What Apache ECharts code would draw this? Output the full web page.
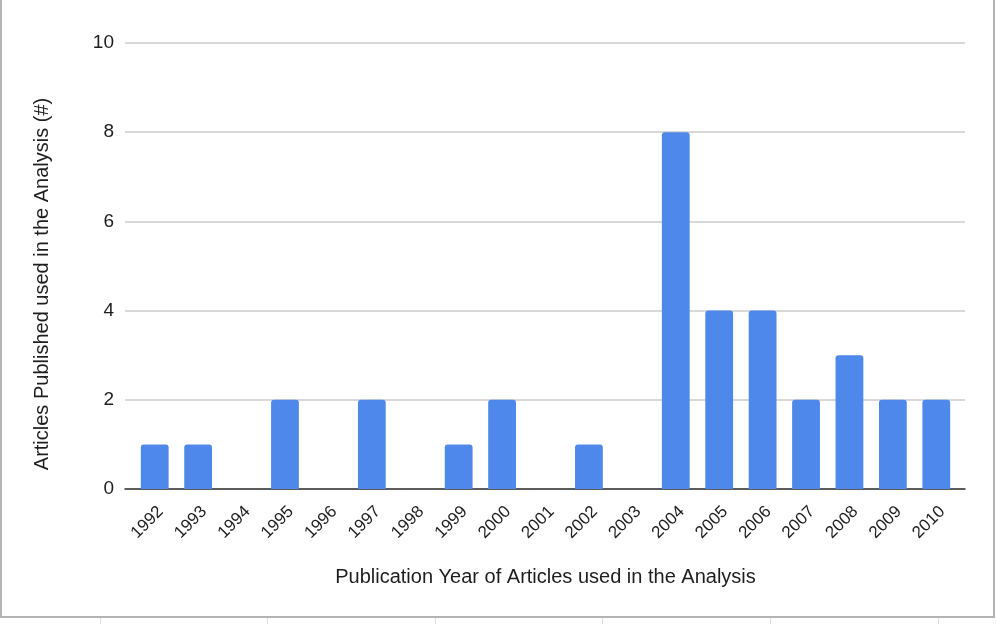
<!DOCTYPE html>
<html>
<head>
<meta charset="utf-8">
<script src="https://cdn.jsdelivr.net/npm/echarts@6/dist/echarts.min.js"></script>
<style>
  html, body { margin: 0; padding: 0; background: #fff; }
  #frame { position: absolute; left: 0; top: 0; width: 995px; height: 618px;
           border-left: 2px solid #b4b4b4; border-right: 2px solid #b4b4b4; border-bottom: 2px solid #b4b4b4; box-sizing: border-box; }
  .mark { position: absolute; top: 618px; width: 1px; height: 6px; background: #dddddd; }
  #chart { position: absolute; left: 0; top: 0; width: 997px; height: 624px; }
</style>
</head>
<body>
<div id="frame"></div>
<div class="mark" style="left:100px"></div>
<div class="mark" style="left:267px"></div>
<div class="mark" style="left:435px"></div>
<div class="mark" style="left:602px"></div>
<div class="mark" style="left:770px"></div>
<div class="mark" style="left:938px"></div>
<div id="chart"></div>
<script>
// Publication years and number of articles per year
const years = ['1992','1993','1994','1995','1996','1997','1998','1999','2000','2001',
               '2002','2003','2004','2005','2006','2007','2008','2009','2010'];
const articleCounts = [1, 1, 0, 2, 0, 2, 0, 1, 2, 0, 1, 0, 8, 4, 4, 2, 3, 2, 2];
const yTicks = { min: 0, max: 10, interval: 2 };

const chart = echarts.init(document.getElementById('chart'), null, { renderer: 'canvas' });
const font = 'Liberation Sans, Arial, Helvetica, sans-serif';
const ink = '#1e1e1e';

chart.setOption({
  animation: false,
  backgroundColor: 'transparent',
  // grid 0: frame with gridlines and baseline (slightly wider than the bar band)
  // grid 1: bar band with category labels
  grid: [
    { left: 125, right: 32, top: 43, bottom: 135, containLabel: false },
    { left: 133, right: 39, top: 43, bottom: 135, containLabel: false }
  ],
  xAxis: [
    {
      gridIndex: 0, type: 'category', data: years,
      axisLine: { lineStyle: { color: '#333', width: 1.5 } },
      axisTick: { show: false }, axisLabel: { show: false }
    },
    {
      gridIndex: 1, type: 'category', data: years,
      name: 'Publication Year of Articles used in the Analysis',
      nameLocation: 'middle',
      nameGap: 78,
      nameTextStyle: { fontFamily: font, fontSize: 20, color: ink },
      axisLine: { show: false },
      axisTick: { show: false },
      axisLabel: { rotate: 45, verticalAlign: 'top', fontFamily: font, fontSize: 17, color: ink, margin: 14, interval: 0 }
    }
  ],
  yAxis: [
    {
      gridIndex: 0, type: 'value',
      min: yTicks.min, max: yTicks.max, interval: yTicks.interval,
      name: 'Articles Published used in the Analysis (#)',
      nameLocation: 'middle',
      nameGap: 73,
      nameTextStyle: { fontFamily: font, fontSize: 20, color: ink, padding: [0, 36, 0, 0] },
      axisLine: { show: false },
      axisTick: { show: false },
      axisLabel: { fontFamily: font, fontSize: 19, color: ink, margin: 11 },
      splitLine: { lineStyle: { color: '#cccccc', width: 1.5 } }
    },
    {
      gridIndex: 1, type: 'value',
      min: yTicks.min, max: yTicks.max, interval: yTicks.interval,
      show: false, splitLine: { show: false }
    }
  ],
  series: [{
    type: 'bar',
    xAxisIndex: 1, yAxisIndex: 1,
    data: articleCounts,
    barWidth: '64%',
    itemStyle: { color: '#4e88ea', borderRadius: [3, 3, 0, 0] }
  }]
});
</script>
</body>
</html>
